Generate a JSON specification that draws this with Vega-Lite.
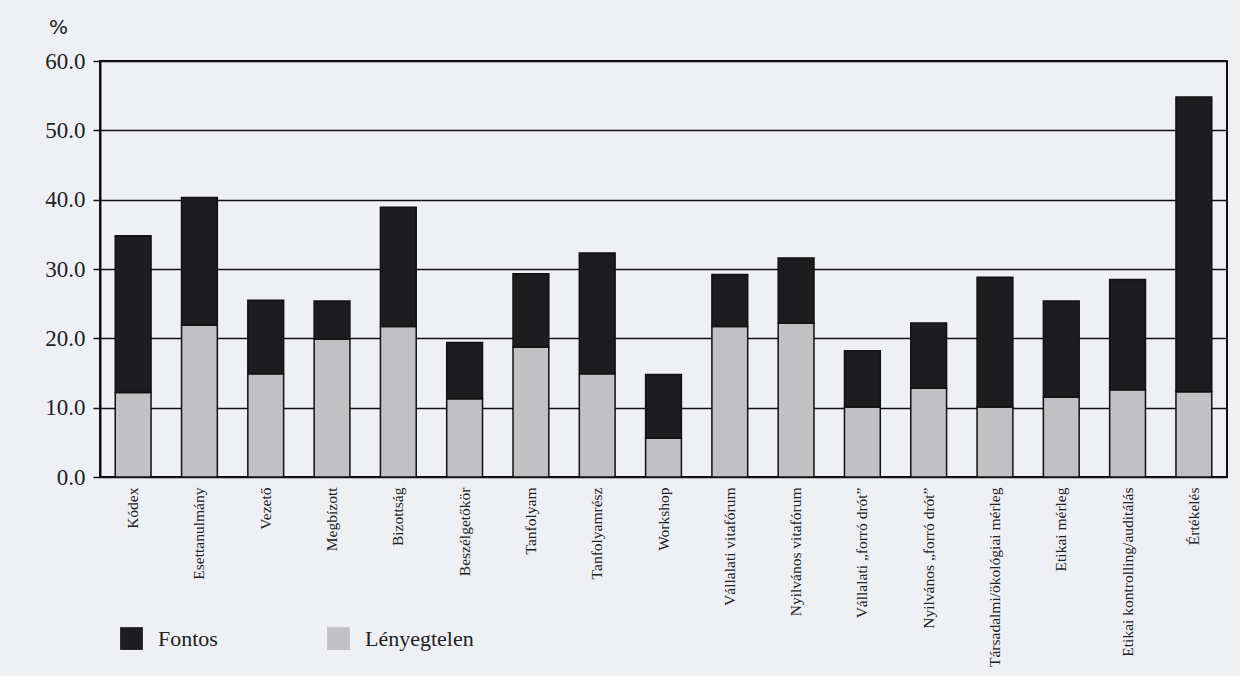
{
  "$schema": "https://vega.github.io/schema/vega-lite/v6.json",
  "width": 1127,
  "height": 416,
  "autosize": {"type": "none"},
  "padding": {"left": 100, "top": 61, "right": 13, "bottom": 199},
  "background": "#eef0f4",
  "data": {
    "values": [
      {"modszer": "Kódex", "kategoria": "Lényegtelen", "ertek": 12.2},
      {"modszer": "Kódex", "kategoria": "Fontos", "ertek": 22.6},
      {"modszer": "Esettanulmány", "kategoria": "Lényegtelen", "ertek": 21.9},
      {"modszer": "Esettanulmány", "kategoria": "Fontos", "ertek": 18.4},
      {"modszer": "Vezető", "kategoria": "Lényegtelen", "ertek": 14.9},
      {"modszer": "Vezető", "kategoria": "Fontos", "ertek": 10.6},
      {"modszer": "Megbízott", "kategoria": "Lényegtelen", "ertek": 19.9},
      {"modszer": "Megbízott", "kategoria": "Fontos", "ertek": 5.5},
      {"modszer": "Bizottság", "kategoria": "Lényegtelen", "ertek": 21.7},
      {"modszer": "Bizottság", "kategoria": "Fontos", "ertek": 17.2},
      {"modszer": "Beszélgetőkör", "kategoria": "Lényegtelen", "ertek": 11.3},
      {"modszer": "Beszélgetőkör", "kategoria": "Fontos", "ertek": 8.1},
      {"modszer": "Tanfolyam", "kategoria": "Lényegtelen", "ertek": 18.7},
      {"modszer": "Tanfolyam", "kategoria": "Fontos", "ertek": 10.6},
      {"modszer": "Tanfolyamrész", "kategoria": "Lényegtelen", "ertek": 14.9},
      {"modszer": "Tanfolyamrész", "kategoria": "Fontos", "ertek": 17.4},
      {"modszer": "Workshop", "kategoria": "Lényegtelen", "ertek": 5.6},
      {"modszer": "Workshop", "kategoria": "Fontos", "ertek": 9.2},
      {"modszer": "Vállalati vitafórum", "kategoria": "Lényegtelen", "ertek": 21.7},
      {"modszer": "Vállalati vitafórum", "kategoria": "Fontos", "ertek": 7.5},
      {"modszer": "Nyilvános vitafórum", "kategoria": "Lényegtelen", "ertek": 22.2},
      {"modszer": "Nyilvános vitafórum", "kategoria": "Fontos", "ertek": 9.4},
      {"modszer": "Vállalati „forró drót”", "kategoria": "Lényegtelen", "ertek": 10.1},
      {"modszer": "Vállalati „forró drót”", "kategoria": "Fontos", "ertek": 8.1},
      {"modszer": "Nyilvános „forró drót”", "kategoria": "Lényegtelen", "ertek": 12.8},
      {"modszer": "Nyilvános „forró drót”", "kategoria": "Fontos", "ertek": 9.4},
      {"modszer": "Társadalmi/ökológiai mérleg", "kategoria": "Lényegtelen", "ertek": 10.1},
      {"modszer": "Társadalmi/ökológiai mérleg", "kategoria": "Fontos", "ertek": 18.7},
      {"modszer": "Etikai mérleg", "kategoria": "Lényegtelen", "ertek": 11.5},
      {"modszer": "Etikai mérleg", "kategoria": "Fontos", "ertek": 13.9},
      {"modszer": "Etikai kontrolling/auditálás", "kategoria": "Lényegtelen", "ertek": 12.6},
      {"modszer": "Etikai kontrolling/auditálás", "kategoria": "Fontos", "ertek": 15.9},
      {"modszer": "Értékelés", "kategoria": "Lényegtelen", "ertek": 12.3},
      {"modszer": "Értékelés", "kategoria": "Fontos", "ertek": 42.5}
    ]
  },
  "mark": {"type": "bar", "stroke": "#111111", "strokeWidth": 1.5},
  "encoding": {
    "x": {
      "field": "modszer",
      "type": "nominal",
      "sort": null,
      "scale": {"paddingInner": 0.46, "paddingOuter": 0.23},
      "axis": {
        "title": null,
        "labelAngle": -90,
        "ticks": false,
        "labelPadding": 10,
        "labelFontSize": 15.5,
        "labelColor": "#222222",
        "labelLimit": 300,
        "domain": false
      }
    },
    "y": {
      "field": "ertek",
      "type": "quantitative",
      "stack": "zero",
      "scale": {"domain": [0, 60], "nice": false},
      "axis": {
        "values": [0, 10, 20, 30, 40, 50, 60],
        "format": ".1f",
        "title": "%",
        "titleAngle": 0,
        "titleX": -42,
        "titleY": -34,
        "titleAlign": "center",
        "titleBaseline": "middle",
        "titleFont": "DejaVu Sans",
        "titleFontSize": 20,
        "titleFontWeight": "normal",
        "titleColor": "#222222",
        "labelFontSize": 23,
        "labelColor": "#222222",
        "labelPadding": 8,
        "tickSize": 7,
        "tickColor": "#111111",
        "tickWidth": 1.5,
        "domainColor": "#111111",
        "domainWidth": 2,
        "grid": true,
        "gridColor": "#111111",
        "gridWidth": 1.6,
        "gridOpacity": 1
      }
    },
    "color": {
      "field": "kategoria",
      "type": "nominal",
      "scale": {"domain": ["Fontos", "Lényegtelen"], "range": ["#1d1d20", "#c1c1c3"]},
      "legend": {
        "title": null,
        "orient": "none",
        "legendX": 20,
        "legendY": 566,
        "direction": "horizontal",
        "symbolType": "square",
        "symbolSize": 520,
        "symbolStrokeWidth": 0,
        "symbolOpacity": 1,
        "labelFont": "Liberation Serif",
        "labelFontSize": 22,
        "labelColor": "#222222",
        "labelOffset": 15,
        "columnPadding": 109
      }
    },
    "order": {"field": "kategoria", "sort": "descending"}
  },
  "config": {
    "font": "Liberation Serif",
    "axis": {"labelFont": "Liberation Serif"},
    "view": {"stroke": "#111111", "strokeWidth": 2},
    "axisX": {"domain": false}
  }
}
